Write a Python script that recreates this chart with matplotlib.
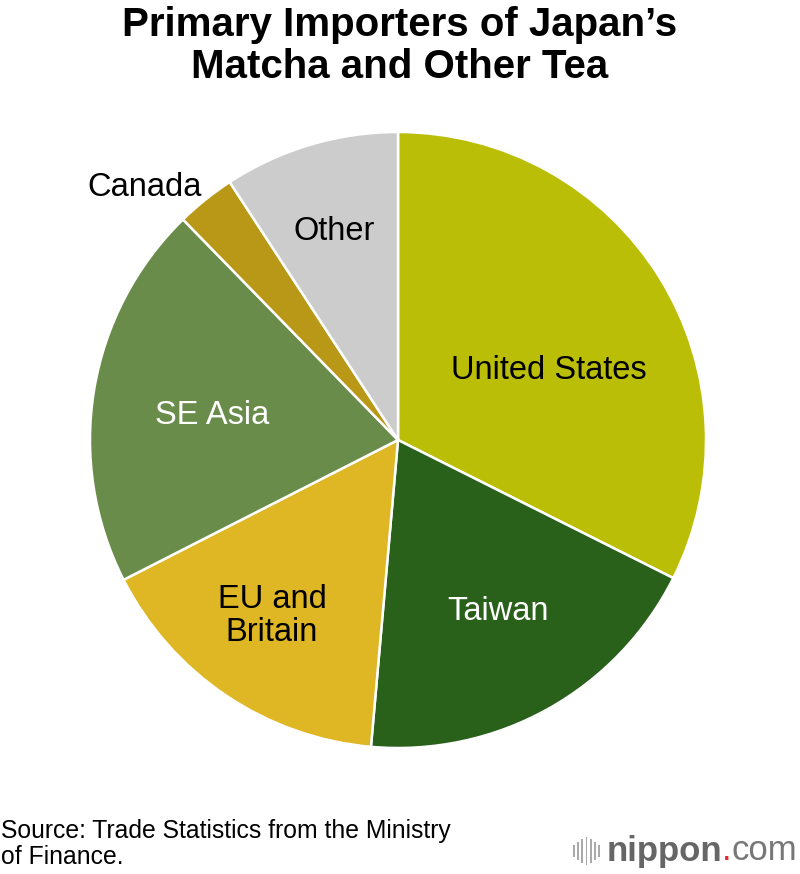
import numpy as np
import matplotlib.pyplot as plt
from matplotlib.patches import Rectangle

plt.rcParams['font.family'] = ['Liberation Sans', 'DejaVu Sans']

# shares (percent), clockwise from 12 o'clock
labels = ['United States', 'Taiwan', 'EU and\nBritain', 'SE Asia', 'Canada', 'Other']
shares = [32.4, 19.0, 16.1, 20.2, 3.1, 9.2]
colors = ['#BBBE06', '#29601A', '#DFB623', '#6A8C4A', '#B99818', '#CCCCCC']
text_colors = ['black', 'white', 'black', 'white', 'black', 'black']

W, H = 800, 874
fig = plt.figure(figsize=(8, 8.74), dpi=100)

# pie axes: centre (398, 440) px, radius 308 px
cx, cy, r = 398, 440, 308
ax = fig.add_axes([(cx - r) / W, (H - cy - r) / H, 2 * r / W, 2 * r / H])
ax.pie(shares, colors=colors, startangle=90, counterclock=False, radius=1,
       wedgeprops=dict(edgecolor='white', linewidth=1.8))
ax.set_xlim(-1, 1)
ax.set_ylim(-1, 1)
ax.set_aspect('equal')
ax.axis('off')

# label positions (px) for each slice
label_px = [(549, 370), (498, 612), (272, 616), (212, 416), (145, 188), (334, 232)]
for lab, (px, py), tc in zip(labels, label_px, text_colors):
    fig.text(px / W, 1 - py / H, lab, ha='center', va='center', fontsize=23.5,
             color=tc, linespacing=1.1)

fig.text(0.5, 1 - 46 / H, 'Primary Importers of Japan\u2019s\nMatcha and Other Tea',
         ha='center', va='center', fontsize=29, fontweight='bold', linespacing=1.13)

fig.text(1 / W, 1 - 844 / H, 'Source: Trade Statistics from the Ministry\nof Finance.',
         ha='left', va='center', fontsize=17.8, linespacing=1.1)

# nippon.com logo
for i, h in enumerate([12, 18, 24, 28, 24, 18, 12]):
    fig.add_artist(Rectangle(((573 + i * 4.2) / W, 1 - (851 + h / 2) / H), 1.8 / W, h / H,
                             transform=fig.transFigure, color='#AAAAAA', lw=0))
fig.text(607 / W, 1 - 851 / H, 'nippon', ha='left', va='center', fontsize=25,
         fontweight='bold', color='#666666')
fig.text(727 / W, 1 - 851 / H, '.', ha='center', va='center', fontsize=25, color='#E8262C')
fig.text(797 / W, 1 - 851 / H, 'com', ha='right', va='center', fontsize=25, color='#777777')

fig.savefig('out.png', dpi=100, facecolor='white')
